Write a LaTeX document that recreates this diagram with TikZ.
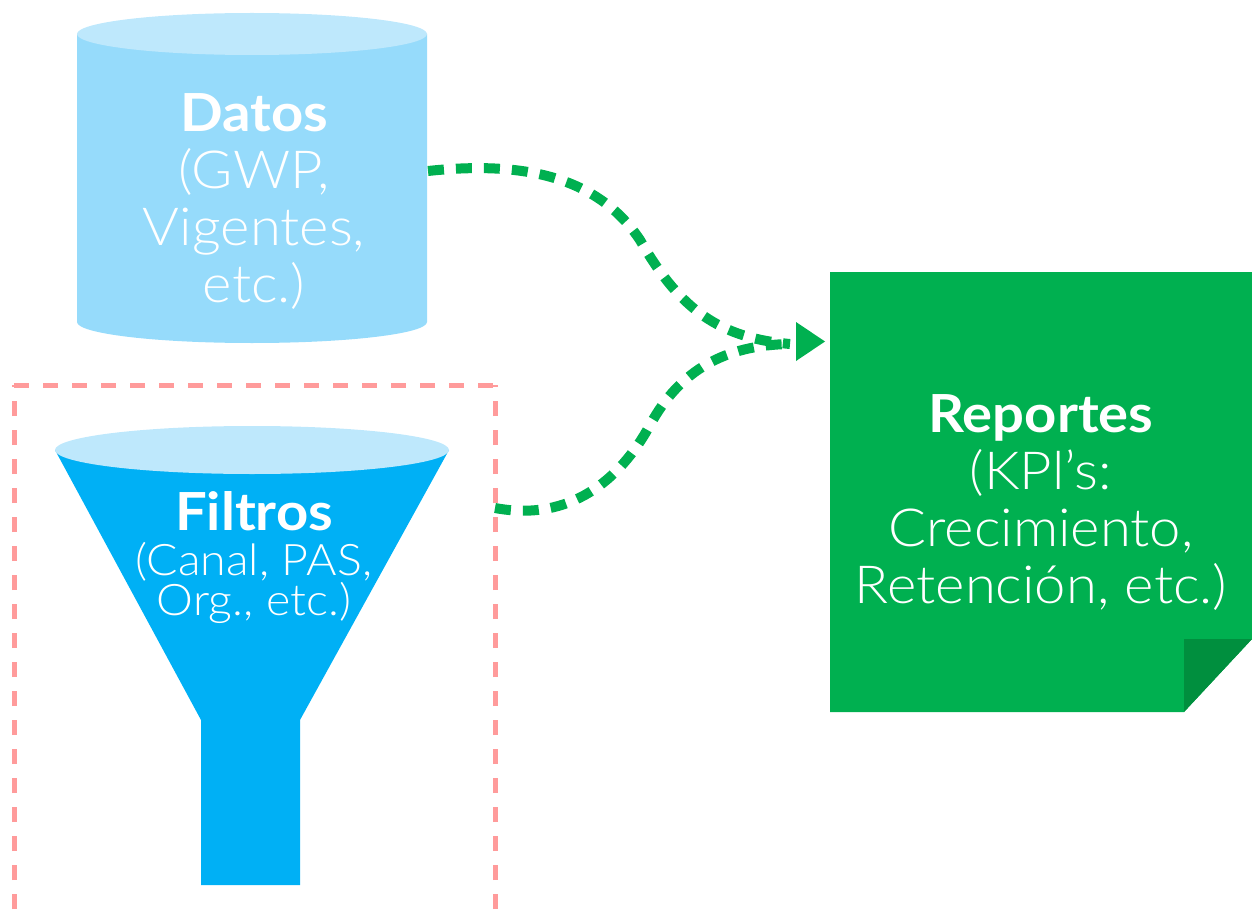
\documentclass[tikz,border=0pt]{standalone}
\usepackage{fontspec}
\setmainfont[FakeStretch=1.07]{Lato Light}
\newfontfamily\boldf[FakeStretch=1.07]{Lato Bold}
\definecolor{cylbody}{HTML}{96DBFB}
\definecolor{cyltop}{HTML}{BEE8FC}
\definecolor{funnelblue}{HTML}{00B0F5}
\definecolor{repgreen}{HTML}{00B050}
\definecolor{foldgreen}{HTML}{008F3E}
\definecolor{pinkdash}{HTML}{FF9B9B}
\tikzset{
  lbl/.style={text=white,align=center,inner sep=0pt,font=\fontsize{52.5}{57}\selectfont},
  lblsmall/.style={text=white,align=center,inner sep=0pt,font=\fontsize{43.5}{40}\selectfont},
  conn/.style={draw=repgreen,line width=10pt,dash pattern=on 16pt off 12pt},
  frame/.style={draw=pinkdash,line width=5pt,dash pattern=on 15pt off 14pt},
}
\begin{document}
\begin{tikzpicture}[x=1pt,y=-1pt]
\useasboundingbox (0,0) rectangle (1252,920);
% frame
\coordinate (fbl) at (14,909);
\coordinate (ftl) at (14,385);
\coordinate (ftr) at (495,385);
\coordinate (fbr) at (495,909);
\draw[frame] (fbl) -- (ftl);
\draw[frame] (ftl) -- (ftr);
\draw[frame] (fbr) -- (ftr);
% cylinder
\fill[cylbody] (77,34) -- (77,322) arc[start angle=180,end angle=360,x radius=175,y radius=-21] -- (427,34) -- cycle;
\fill[cyltop] (252,34) ellipse[x radius=175,y radius=21];
% funnel
\fill[funnelblue] (55,450) -- (449,450) -- (300,720) -- (300,885) -- (201,885) -- (201,720) -- cycle;
\fill[cyltop] (252,450) ellipse[x radius=197,y radius=24];
% report
\fill[repgreen] (830,272) -- (1252,272) -- (1252,639) -- (1184,712) -- (830,712) -- cycle;
\fill[foldgreen] (1184,639) -- (1252,639) -- (1184,712) -- cycle;
% labels
\node[lbl] (datos) at (254,201) {{\boldf Datos}\\(GWP,\\Vigentes,\\etc.)};
\node[lbl] (filtrost) at (254,511) {\boldf Filtros};
\node[lblsmall] (filtros) at (254,583) {(Canal, PAS,\\Org., etc.)};
\node[lbl] (reportes) at (1041,502) {{\boldf Reportes}\\(KPl’s:\\Crecimiento,\\Retención, etc.)};
% connectors
\coordinate (c1s) at (428,171);
\coordinate (c2s) at (495,508);
\coordinate (cend) at (790,344);
\draw[conn] (c1s) .. controls (530,160) and (600,180) .. (640,240)
  .. controls (680,310) and (720,338) .. (cend);
\draw[conn] (c2s) .. controls (570,522) and (620,480) .. (650,425)
  .. controls (680,370) and (725,345) .. (cend);
\fill[repgreen] (796,322) -- (825,341.5) -- (796,361) -- cycle;
\end{tikzpicture}
\end{document}
